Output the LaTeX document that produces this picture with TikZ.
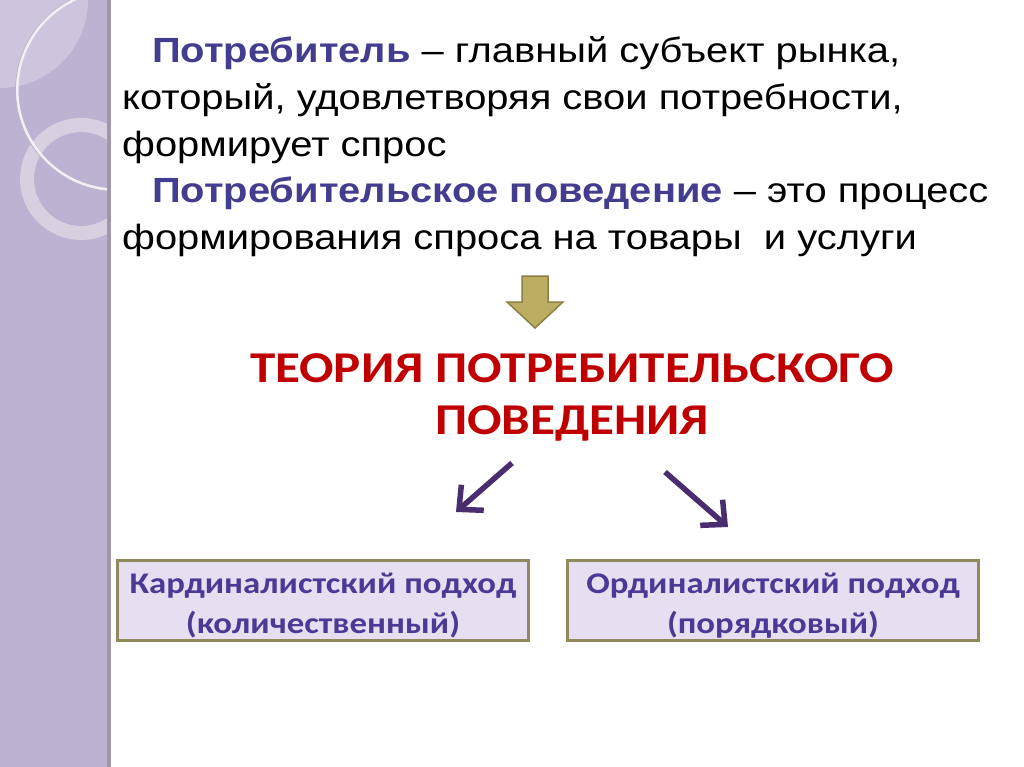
\documentclass[tikz,border=0pt]{standalone}
\usepackage{fontspec}
\setmainfont{Liberation Sans}[FakeStretch=1.14]
\newfontfamily\carl{Carlito}[FakeStretch=1.16]
\usetikzlibrary{arrows.meta}
\definecolor{band}{HTML}{BCB2D2}
\definecolor{bandedge}{HTML}{9F98AB}
\definecolor{ringc}{HTML}{D9D4E2}
\definecolor{termc}{HTML}{433D8F}
\definecolor{titlec}{HTML}{C00000}
\definecolor{boxtext}{HTML}{4A3A96}
\definecolor{boxfill}{HTML}{E6DFF1}
\definecolor{boxline}{HTML}{8E8A5B}
\definecolor{arrc}{HTML}{4A2D6E}
\definecolor{downfill}{HTML}{BBAE62}
\definecolor{downline}{HTML}{8C8047}
\tikzset{
  body/.style={anchor=base west, inner sep=0pt, font=\fontsize{35}{42}\selectfont, text=black},
  ttl/.style={anchor=base, inner sep=0pt, font=\carl\bfseries\fontsize{44}{50}\selectfont, text=titlec},
  approach/.style={draw=boxline, line width=3pt, fill=boxfill, text=boxtext,
    font=\carl\bfseries\fontsize{30}{40}\selectfont, minimum width=411pt, minimum height=80pt,
    inner sep=0pt},
  link/.style={draw=arrc, line width=5.5pt, -{Straight Barb[length=18pt,width=34pt,line width=5.5pt]}}
}
\newcommand{\term}[1]{\textbf{\textcolor{termc}{#1}}}
\newcommand{\twolines}[2]{\raisebox{-5pt}[\height][\depth]{\begin{tabular}{@{}c@{}}#1\\#2\end{tabular}}}
\begin{document}
\begin{tikzpicture}[x=1pt,y=-1pt]
\useasboundingbox (0,0) rectangle (1024,767);
\fill[white] (0,0) rectangle (1024,767);
% left band
\fill[band] (0,0) rectangle (108,767);
\begin{scope}
\clip (0,0) rectangle (108,767);
\fill[white,opacity=0.25] (0,0) circle (88);
\draw[ringc,line width=14pt,opacity=0.9] (81,179) circle (54);
\draw[white!80!band,line width=3pt] (117,90) circle (100);
\draw[bandedge!70!white,line width=0.8pt] (117,90) circle (101.5);
\end{scope}
\fill[bandedge] (107,0) rectangle (111,767);
% text lines
\node[body] (l1) at (152,63) {\term{Потребитель} – главный субъект рынка,};
\node[body] (l2) at (122,110) {который, удовлетворяя свои потребности,};
\node[body] (l3) at (122,157) {формирует спрос};
\node[body] (l4) at (152,203) {\term{Потребительское поведение} – это процесс};
\node[body] (l5) at (122,249) {формирования спроса на товары \ и услуги};
% down block arrow
\filldraw[fill=downfill,draw=downline,line width=1.5pt,line join=miter]
  (522,276) -- (548,276) -- (548,302) -- (563,302) -- (535,328) -- (507,302) -- (522,302) -- cycle;
% title
\node[ttl] (t1) at (572,382) {ТЕОРИЯ ПОТРЕБИТЕЛЬСКОГО};
\node[ttl] (t2) at (572,434) {ПОВЕДЕНИЯ};
% boxes
\node[approach] (card) at (323,600) {\twolines{Кардиналистский подход}{(количественный)}};
\node[approach] (ord) at (773,600) {\twolines{Ординалистский подход}{(порядковый)}};
% arrows
\coordinate (s1) at (512,463);
\coordinate (e1) at (456,512);
\coordinate (s2) at (665,472);
\coordinate (e2) at (728,527);
\draw[link] (s1) -- (e1);
\draw[link] (s2) -- (e2);
\end{tikzpicture}
\end{document}
